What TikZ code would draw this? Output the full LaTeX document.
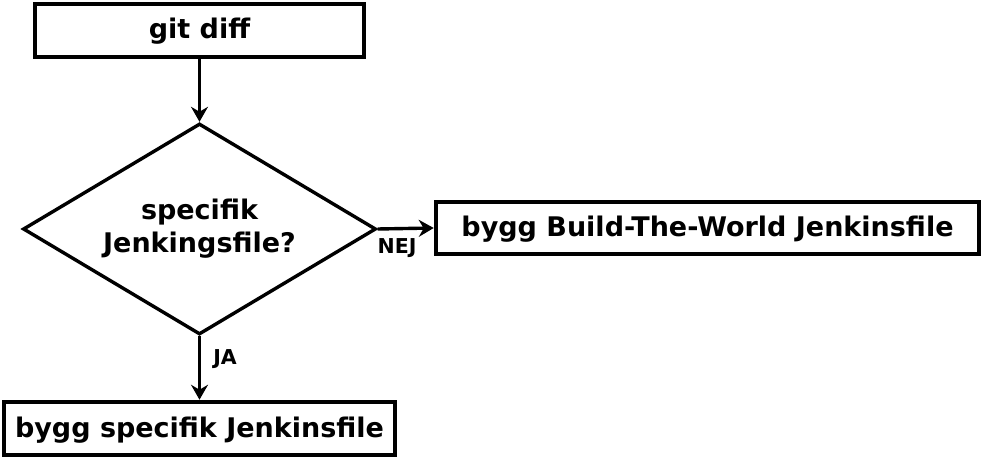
\documentclass[tikz,border=0pt]{standalone}
\usepackage{fontspec}
\setmainfont{DejaVu Sans}
\usetikzlibrary{shapes.geometric,arrows.meta}
\begin{document}
\begin{tikzpicture}[x=1pt,y=1pt,
  box/.style={draw, line width=4pt, inner sep=0pt, text height=20pt, text depth=3pt, font=\bfseries\fontsize{27}{33}\selectfont},
  dec/.style={draw, diamond, line width=3.4pt, inner sep=0pt, aspect=1.675, minimum width=353pt, minimum height=211pt, align=center, font=\bfseries\fontsize{27}{33}\selectfont},
  conn/.style={line width=3.4pt, -{Stealth[length=15pt,width=17pt,inset=5pt]}},
  lbl/.style={font=\bfseries\fontsize{20.5}{24}\selectfont, inner sep=0pt}]
\useasboundingbox (0,0) rectangle (985,461);
\node[box, minimum width=329.5pt, minimum height=53.5pt] (git) at (199.5,430.5) {git diff};
\node[dec] (spec) at (199.5,232) {specifik\\Jenkingsfile?};
\node[box, minimum width=543.5pt, minimum height=52.5pt] (btw) at (707.5,233) {bygg Build-The-World Jenkinsfile};
\node[box, minimum width=391.5pt, minimum height=53.5pt] (bsj) at (199.5,32.5) {bygg specifik Jenkinsfile};
\draw[conn] (git) -- (spec);
\draw[conn] (spec.east) -- (btw.west);
\draw[conn] (spec.south) -- (bsj.north);
\node[lbl] (nej) at (397,213) {NEJ};
\node[lbl] (ja) at (225,102) {JA};
\end{tikzpicture}
\end{document}
